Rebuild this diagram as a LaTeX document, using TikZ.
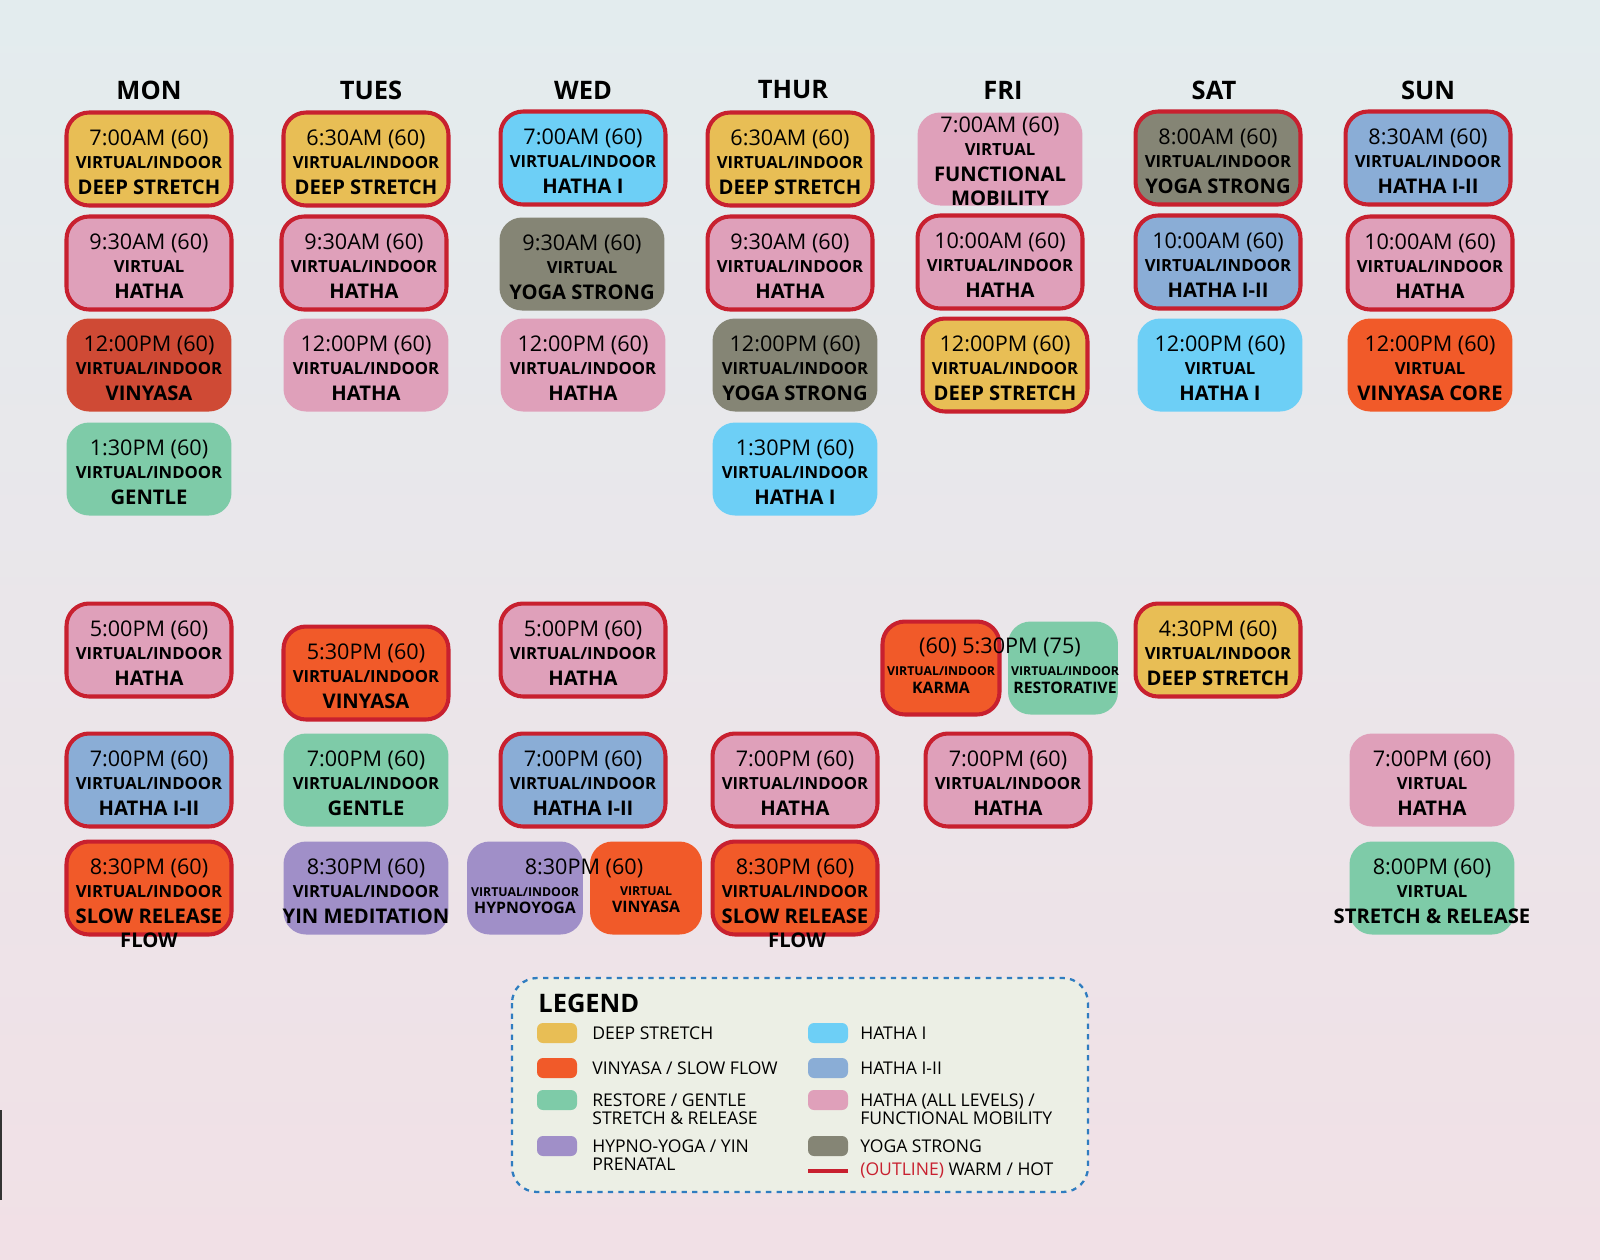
\documentclass[tikz,border=0pt]{standalone}
\usepackage{fontspec}
\setmainfont{Open Sans}
\begin{document}
\begin{tikzpicture}[x=0.02cm,y=-0.02cm]
\definecolor{cDS}{HTML}{E8BE55}
\definecolor{cVN}{HTML}{F15A29}
\definecolor{cVD}{HTML}{CF4A35}
\definecolor{cRG}{HTML}{7ECBA8}
\definecolor{cHY}{HTML}{A08FC8}
\definecolor{cH1}{HTML}{6DCFF6}
\definecolor{cH2}{HTML}{8AADD6}
\definecolor{cHA}{HTML}{DFA0BA}
\definecolor{cYS}{HTML}{858575}
\definecolor{cWR}{HTML}{C8202F}
\definecolor{cLG}{HTML}{2F7DC0}
\definecolor{bgT}{HTML}{E3ECEE}
\definecolor{bgM}{HTML}{FBFBF0}
\definecolor{bgB}{HTML}{F1E0E6}
\definecolor{lgF}{HTML}{ECEFE5}
\tikzset{
 box/.style={rounded corners=0.45cm,minimum width=3.3cm,minimum height=1.86cm,inner sep=0pt},
 warm/.style={draw=cWR,line width=2.3pt},
 tm/.style={font=\fontsize{12.3}{12.3}\selectfont,inner sep=0pt},
 ty/.style={font=\fontsize{9.5}{9.5}\selectfont\bfseries,inner sep=0pt},
 nm/.style={font=\fontsize{11.5}{11.5}\selectfont\bfseries,inner sep=0pt},
 hd/.style={font=\fontsize{14.5}{14.5}\selectfont\bfseries,inner sep=0pt},
 sw/.style={rounded corners=0.12cm,minimum width=0.8cm,minimum height=0.4cm,inner sep=0pt},
 lg/.style={font=\fontsize{10}{10.5}\selectfont,anchor=west,align=left,inner sep=0pt}
}
\newcommand{\cls}[7]{%
 \node[box,#4] (#1) at (#2,#3) {};
 \node[tm] (#1t) at (#2,#3-20) {#5};
 \node[ty] (#1y) at (#2,#3+4) {#6};
 \node[nm] (#1n) at (#2,#3+28) {#7};}
\useasboundingbox (0,0) rectangle (1600,1259);
\shade[top color=bgT, middle color=bgM, bottom color=bgB] (0,0) rectangle (1600,1259);
\draw[line width=1.5pt,black!80] (1,1110) -- (1,1200);
% headers
\foreach \n/\x/\t in {hm/149/MON,ht/371/TUES,hw/583/WED,hr/793/THUR,hf/1003/FRI,hs/1214/SAT,hu/1428/SUN}
 \node[hd] (\n) at (\x,90) {\t};
% row 1
\cls{a1}{149}{159}{fill=cDS,warm}{7:00AM (60)}{VIRTUAL/INDOOR}{DEEP STRETCH}
\cls{b1}{366}{159}{fill=cDS,warm}{6:30AM (60)}{VIRTUAL/INDOOR}{DEEP STRETCH}
\cls{c1}{583}{158}{fill=cH1,warm}{7:00AM (60)}{VIRTUAL/INDOOR}{HATHA I}
\cls{d1}{790}{159}{fill=cDS,warm}{6:30AM (60)}{VIRTUAL/INDOOR}{DEEP STRETCH}
\node[box,fill=cHA] (e1) at (1000,159) {};
\node[tm] at (1000,126) {7:00AM (60)};
\node[ty] at (1000,150) {VIRTUAL};
\node[nm] at (1000,174) {FUNCTIONAL};
\node[nm] at (1000,198) {MOBILITY};
\cls{f1}{1218}{158}{fill=cYS,warm}{8:00AM (60)}{VIRTUAL/INDOOR}{YOGA STRONG}
\cls{g1}{1428}{158}{fill=cH2,warm}{8:30AM (60)}{VIRTUAL/INDOOR}{HATHA I-II}
% row 2
\cls{a2}{149}{263}{fill=cHA,warm}{9:30AM (60)}{VIRTUAL}{HATHA}
\cls{b2}{364}{263}{fill=cHA,warm}{9:30AM (60)}{VIRTUAL/INDOOR}{HATHA}
\cls{c2}{582}{264}{fill=cYS}{9:30AM (60)}{VIRTUAL}{YOGA STRONG}
\cls{d2}{790}{263}{fill=cHA,warm}{9:30AM (60)}{VIRTUAL/INDOOR}{HATHA}
\cls{e2}{1000}{262}{fill=cHA,warm}{10:00AM (60)}{VIRTUAL/INDOOR}{HATHA}
\cls{f2}{1218}{262}{fill=cH2,warm}{10:00AM (60)}{VIRTUAL/INDOOR}{HATHA I-II}
\cls{g2}{1430}{263}{fill=cHA,warm}{10:00AM (60)}{VIRTUAL/INDOOR}{HATHA}
% row 3
\cls{a3}{149}{365}{fill=cVD}{12:00PM (60)}{VIRTUAL/INDOOR}{VINYASA}
\cls{b3}{366}{365}{fill=cHA}{12:00PM (60)}{VIRTUAL/INDOOR}{HATHA}
\cls{c3}{583}{365}{fill=cHA}{12:00PM (60)}{VIRTUAL/INDOOR}{HATHA}
\cls{d3}{795}{365}{fill=cYS}{12:00PM (60)}{VIRTUAL/INDOOR}{YOGA STRONG}
\cls{e3}{1005}{365}{fill=cDS,warm}{12:00PM (60)}{VIRTUAL/INDOOR}{DEEP STRETCH}
\cls{f3}{1220}{365}{fill=cH1}{12:00PM (60)}{VIRTUAL}{HATHA I}
\cls{g3}{1430}{365}{fill=cVN}{12:00PM (60)}{VIRTUAL}{VINYASA CORE}
% row 4
\cls{a4}{149}{469}{fill=cRG}{1:30PM (60)}{VIRTUAL/INDOOR}{GENTLE}
\cls{d4}{795}{469}{fill=cH1}{1:30PM (60)}{VIRTUAL/INDOOR}{HATHA I}
% row 5
\cls{a5}{149}{650}{fill=cHA,warm}{5:00PM (60)}{VIRTUAL/INDOOR}{HATHA}
\cls{b5}{366}{673}{fill=cVN,warm}{5:30PM (60)}{VIRTUAL/INDOOR}{VINYASA}
\cls{c5}{583}{650}{fill=cHA,warm}{5:00PM (60)}{VIRTUAL/INDOOR}{HATHA}
\node[box,fill=cVN,warm,minimum width=2.34cm] (e5a) at (941,668) {};
\node[box,fill=cRG,minimum width=2.2cm] (e5b) at (1063,668) {};
\node[tm] at (1000,647) {(60) 5:30PM (75)};
\node[ty,font=\fontsize{7}{7}\selectfont\bfseries] at (941,671) {VIRTUAL/INDOOR};
\node[ty,font=\fontsize{9}{9}\selectfont\bfseries] at (941,688) {KARMA};
\node[ty,font=\fontsize{7}{7}\selectfont\bfseries] at (1065,671) {VIRTUAL/INDOOR};
\node[ty,font=\fontsize{9}{9}\selectfont\bfseries] at (1065,688) {RESTORATIVE};
\cls{f5}{1218}{650}{fill=cDS,warm}{4:30PM (60)}{VIRTUAL/INDOOR}{DEEP STRETCH}
% row 6
\cls{a6}{149}{780}{fill=cH2,warm}{7:00PM (60)}{VIRTUAL/INDOOR}{HATHA I-II}
\cls{b6}{366}{780}{fill=cRG}{7:00PM (60)}{VIRTUAL/INDOOR}{GENTLE}
\cls{c6}{583}{780}{fill=cH2,warm}{7:00PM (60)}{VIRTUAL/INDOOR}{HATHA I-II}
\cls{d6}{795}{780}{fill=cHA,warm}{7:00PM (60)}{VIRTUAL/INDOOR}{HATHA}
\cls{e6}{1008}{780}{fill=cHA,warm}{7:00PM (60)}{VIRTUAL/INDOOR}{HATHA}
\cls{g6}{1432}{780}{fill=cHA}{7:00PM (60)}{VIRTUAL}{HATHA}
% row 7
\cls{a7}{149}{888}{fill=cVN,warm}{8:30PM (60)}{VIRTUAL/INDOOR}{SLOW RELEASE}
\node[nm] at (149,940) {FLOW};
\cls{b7}{366}{888}{fill=cHY}{8:30PM (60)}{VIRTUAL/INDOOR}{YIN MEDITATION}
\node[box,fill=cHY,minimum width=2.32cm] (c7a) at (525,888) {};
\node[box,fill=cVN,minimum width=2.24cm] (c7b) at (646,888) {};
\node[tm] at (584,868) {8:30PM (60)};
\node[ty,font=\fontsize{7}{7}\selectfont\bfseries] at (525,892) {VIRTUAL/INDOOR};
\node[ty,font=\fontsize{9}{9}\selectfont\bfseries] at (525,908) {HYPNOYOGA};
\node[ty,font=\fontsize{7}{7}\selectfont\bfseries] at (646,891) {VIRTUAL};
\node[ty,font=\fontsize{9}{9}\selectfont\bfseries] at (646,907) {VINYASA};
\cls{d7}{795}{888}{fill=cVN,warm}{8:30PM (60)}{VIRTUAL/INDOOR}{SLOW RELEASE}
\node[nm] at (797,940) {FLOW};
\cls{g7}{1432}{888}{fill=cRG}{8:00PM (60)}{VIRTUAL}{STRETCH \& RELEASE}
% legend
\draw[cLG,dashed,line width=1.3pt,fill=lgF,rounded corners=0.5cm] (512,978) rectangle (1088,1192);
\node[hd,anchor=west] (lt) at (538,1003) {LEGEND};
\node[sw,fill=cDS] (s1) at (557,1033) {}; \node[lg] at (592,1033) {DEEP STRETCH};
\node[sw,fill=cVN] (s2) at (557,1068) {}; \node[lg] at (592,1068) {VINYASA / SLOW FLOW};
\node[sw,fill=cRG] (s3) at (557,1100) {}; \node[lg] at (592,1109) {RESTORE / GENTLE\\STRETCH \& RELEASE};
\node[sw,fill=cHY] (s4) at (557,1146) {}; \node[lg] at (592,1155) {HYPNO-YOGA / YIN\\PRENATAL};
\node[sw,fill=cH1] (s5) at (828,1033) {}; \node[lg] at (860,1033) {HATHA I};
\node[sw,fill=cH2] (s6) at (828,1068) {}; \node[lg] at (860,1068) {HATHA I-II};
\node[sw,fill=cHA] (s7) at (828,1100) {}; \node[lg] at (860,1109) {HATHA (ALL LEVELS) /\\FUNCTIONAL MOBILITY};
\node[sw,fill=cYS] (s8) at (828,1146) {}; \node[lg] at (860,1146) {YOGA STRONG};
\coordinate (o1) at (808,1171); \coordinate (o2) at (848,1171);
\draw[cWR,line width=1.8pt] (o1) -- (o2);
\node[lg] at (860,1171) {\textcolor{cWR}{(OUTLINE)} WARM / HOT};
\end{tikzpicture}
\end{document}
